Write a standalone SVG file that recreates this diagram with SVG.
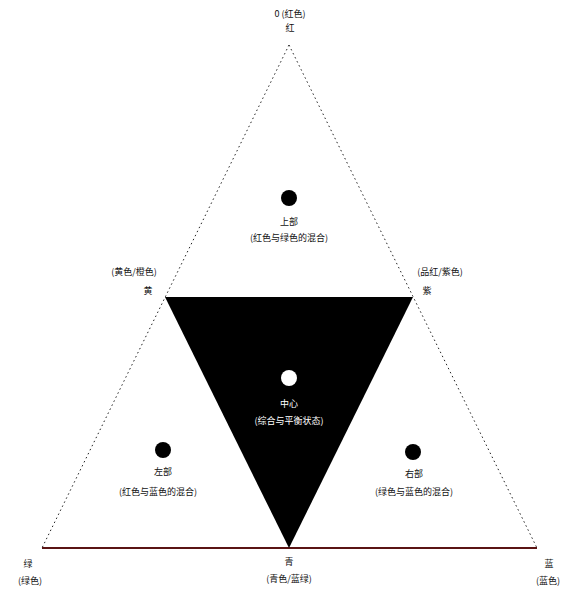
<svg xmlns="http://www.w3.org/2000/svg" width="576" height="595" viewBox="0 0 576 595">
<style>
text{font-family:"Noto Sans CJK SC","Liberation Sans",sans-serif;font-size:9px;fill:#111;text-anchor:middle}
.w{fill:#fff}
.edge{fill:none;stroke:#222;stroke-width:1;stroke-dasharray:1.5 3}
</style>
<rect width="576" height="595" fill="#fff"/>
<g id="connectors">
<line class="edge" x1="289" y1="45" x2="42" y2="548"/>
<line class="edge" x1="289" y1="45" x2="537" y2="548"/>
<line x1="42" y1="548" x2="537" y2="548" stroke="#5a1414" stroke-width="2"/>
</g>
<g id="center">
<polygon points="165,297 413,297 289,548" fill="#000"/>
<circle cx="289" cy="378" r="8" fill="#fff"/>
<text class="w" x="289" y="407">中心</text>
<text class="w" x="289" y="424">(综合与平衡状态)</text>
</g>
<g id="top-region">
<circle cx="289" cy="198" r="8" fill="#000"/>
<text x="289" y="225">上部</text>
<text x="289" y="241">(红色与绿色的混合)</text>
</g>
<g id="left-region">
<circle cx="163" cy="450" r="8" fill="#000"/>
<text x="163" y="475">左部</text>
<text x="158" y="495">(红色与蓝色的混合)</text>
</g>
<g id="right-region">
<circle cx="413" cy="452" r="8" fill="#000"/>
<text x="414" y="477">右部</text>
<text x="414" y="495">(绿色与蓝色的混合)</text>
</g>
<g id="top-vertex">
<text x="290" y="17">0 (红色)</text>
<text x="290" y="31">红</text>
</g>
<g id="left-mid">
<text x="134" y="275">(黄色/橙色)</text>
<text x="148" y="294">黄</text>
</g>
<g id="right-mid">
<text x="440" y="275">(品红/紫色)</text>
<text x="427" y="294">紫</text>
</g>
<g id="bottom-left">
<text x="28" y="567">绿</text>
<text x="30" y="584">(绿色)</text>
</g>
<g id="bottom-mid">
<text x="289" y="565">青</text>
<text x="289" y="582">(青色/蓝绿)</text>
</g>
<g id="bottom-right">
<text x="549" y="567">蓝</text>
<text x="548" y="584">(蓝色)</text>
</g>
</svg>
